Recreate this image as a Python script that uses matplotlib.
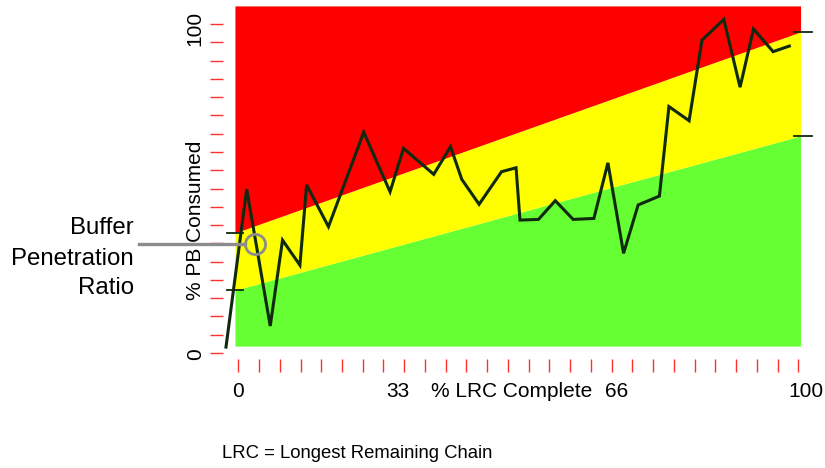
import numpy as np
import matplotlib
matplotlib.use("Agg")
import matplotlib.pyplot as plt

plt.rcParams['font.family'] = ['Liberation Sans', 'DejaVu Sans']

# %% Data
lrc_complete = [-2.2, 1.5, 5.7, 7.9, 11.0, 12.2, 16.1, 22.4, 27.1, 29.5, 34.9,
                37.9, 39.9, 43.0, 47.0, 49.6, 50.3, 53.6, 56.6, 59.8, 63.5,
                66.0, 68.8, 71.4, 75.2, 76.9, 80.5, 82.8, 86.7, 89.6, 92.0,
                95.5, 98.4]
pb_consumed = [1.8, 49.8, 8.2, 34.3, 26.7, 51.1, 38.4, 67.1, 49.0, 62.2, 54.3,
               62.7, 52.8, 45.2, 55.1, 56.3, 40.4, 40.6, 46.3, 40.6, 40.9,
               57.8, 30.3, 45.0, 47.7, 74.9, 70.6, 95.1, 101.4, 80.8, 98.5,
               91.6, 93.3]

zone_x = [-0.6, 100.4]
zone_bottom = 2.1
zone_top = 105.5
red_yellow = [36.5, 97.6]     # boundary between red and yellow zone
yellow_green = [19.1, 66.0]   # boundary between yellow and green zone

x_ticks = np.linspace(0, 100, 28)
y_ticks = np.linspace(0, 100, 19)

# bpr marker: current point on the chart
bpr_point = (3.0, 33.1)

# %% Figure
W, H = 825, 468
fig = plt.figure(figsize=(W / 100, H / 100), dpi=100)
x0_px, x100_px = 238.3, 798.3
y0_px, y100_px = 353.0, 24.0
ax = fig.add_axes([x0_px / W, 1 - y0_px / H,
                   (x100_px - x0_px) / W, (y0_px - y100_px) / H])
ax.set_xlim(0, 100)
ax.set_ylim(0, 100)

RED = '#ff0000'
YELLOW = '#ffff00'
GREEN = '#66ff33'
LINE = '#0f2a0f'
TICK = '#ff3030'

zx = np.array(zone_x)
for lo, hi, c in [([zone_bottom] * 2, yellow_green, GREEN),
                  (yellow_green, red_yellow, YELLOW),
                  (red_yellow, [zone_top] * 2, RED)]:
    pc = ax.fill_between(zx, lo, hi, color=c, linewidth=0, zorder=1)
    pc.set_clip_on(False)

# small dark marks where zone boundaries meet the edges
for yl, yr in [(red_yellow[0], red_yellow[1]), (yellow_green[0], yellow_green[1])]:
    ax.plot([-2.0, 0.84], [yl, yl], color=LINE, lw=1.3, clip_on=False, zorder=3)
    ax.plot([99.2, 102.4], [yr, yr], color=LINE, lw=1.3, clip_on=False, zorder=3)

ax.plot(lrc_complete, pb_consumed, color=LINE, lw=2.2, clip_on=False,
        solid_joinstyle='miter', zorder=4)

# Buffer Penetration Ratio callout
ax.plot([-17.7, bpr_point[0] - 1.75], [bpr_point[1]] * 2, color='#8c8c8c',
        lw=2.4, clip_on=False, zorder=5)
ax.plot(*bpr_point, marker='o', ms=14.5, mfc='none', mec='#8c8c8c', mew=2.0,
        clip_on=False, zorder=5)

# ticks
for s in ax.spines.values():
    s.set_visible(False)
ax.spines['left'].set_position(('outward', 11))
ax.spines['bottom'].set_position(('outward', 4.5))
ax.set_xticks(x_ticks)
ax.set_yticks(y_ticks)
ax.set_xticklabels([])
ax.set_yticklabels([])
ax.tick_params(axis='both', direction='out', length=9.6, width=1.0, color=TICK)
ax.tick_params(axis='y', length=9.4)

# axis texts
fs = 15
ylab_x = -7.7
ax.text(ylab_x, -0.3, '0', rotation=90, ha='center', va='center', fontsize=fs)
ax.text(ylab_x, 98.5, '100', rotation=90, ha='center', va='center', fontsize=fs)
ax.text(ylab_x, 40.4, '% PB Consumed', rotation=90, ha='center', va='center',
        fontsize=fs)
xlab_y = -11.6
for xv, s in [(0, '0'), (28.5, '33'), (48.8, '% LRC Complete'), (67.6, '66'),
              (101.3, '100')]:
    ax.text(xv, xlab_y, s, ha='center', va='center', fontsize=fs)

for yp, s in [(227.5, 'Buffer'), (259.0, 'Penetration'), (288.5, 'Ratio')]:
    fig.text(134 / W, 1 - yp / H, s, ha='right', va='center', fontsize=17.3,
             fontweight='medium')

fig.text(222 / W, 1 - 454 / H, 'LRC = Longest Remaining Chain', ha='left',
         va='center', fontsize=13.3)

fig.savefig('out.png', dpi=100)
